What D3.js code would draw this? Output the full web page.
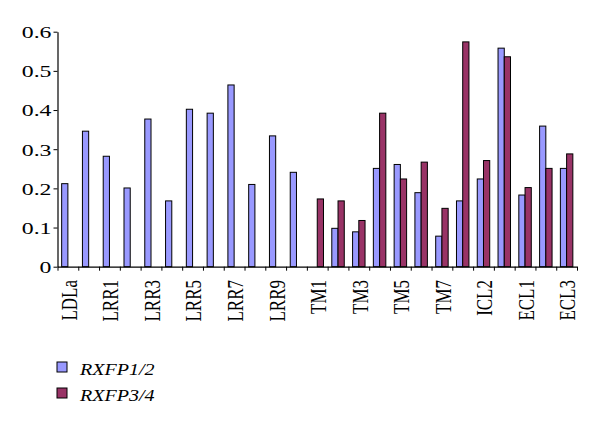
<!DOCTYPE html>
<html>
<head>
<meta charset="utf-8">
<script src="https://cdn.jsdelivr.net/npm/d3@7"></script>
<style>
  html, body { margin: 0; padding: 0; background: #fff; }
  svg { display: block; }
  text { font-family: "Liberation Serif", "Times New Roman", serif; fill: #000; }
</style>
</head>
<body>
<svg id="chart" width="600" height="426"></svg>
<script>
// ---- data ----
const categories = ["LDLa", "Linker", "LRR1", "LRR2", "LRR3", "LRR4", "LRR5", "LRR6", "LRR7", "LRR8",
  "LRR9", "LRR10", "TM1", "TM2", "TM3", "TM4", "TM5", "TM6", "TM7", "ICL1", "ICL2", "ICL3",
  "ECL1", "ECL2", "ECL3"];
const seriesNames = ["RXFP1/2", "RXFP3/4"];
const rxfp12 = [0.212, 0.346, 0.282, 0.201, 0.377, 0.168, 0.402, 0.392, 0.464, 0.210, 0.334, 0.241,
  null, 0.098, 0.089, 0.251, 0.261, 0.189, 0.078, 0.168, 0.224, 0.558, 0.183, 0.359, 0.251];
const rxfp34 = [null, null, null, null, null, null, null, null, null, null, null, null,
  0.173, 0.168, 0.118, 0.392, 0.224, 0.267, 0.149, 0.574, 0.271, 0.536, 0.202, 0.251, 0.288];
const yTicks = [0, 0.1, 0.2, 0.3, 0.4, 0.5, 0.6];
const colors = ["#9999FF", "#993366"];

// ---- layout ----
const svg = d3.select("#chart");
const mLeft = 57.5, mRight = 577, mTop = 31.7, mBottom = 266.7;
const stretch = 1.4;

const x0 = d3.scaleBand().domain(categories).range([mLeft, mRight]).paddingInner(0.4).paddingOuter(0.2);
const x1 = d3.scaleBand().domain(seriesNames).range([0, x0.bandwidth()]);
const y = d3.scaleLinear().domain([0, 0.6]).range([mBottom, mTop]);
const xIdx = d3.scaleLinear().domain([0, categories.length]).range([mLeft, mRight]);

const values = [rxfp12, rxfp34];
const rows = [];
categories.forEach((c, i) => {
  seriesNames.forEach((s, k) => {
    const v = values[k][i];
    if (v !== null) rows.push({ cat: c, series: s, k, v });
  });
});

svg.append("g").selectAll("rect").data(rows).join("rect")
  .attr("x", d => x0(d.cat) + x1(d.series))
  .attr("y", d => y(d.v))
  .attr("width", x1.bandwidth())
  .attr("height", d => y(0) - y(d.v))
  .attr("fill", d => colors[d.k])
  .attr("stroke", "#000")
  .attr("stroke-width", 1);

// y axis
const yAxis = svg.append("g").attr("transform", `translate(${mLeft},0)`)
  .call(d3.axisLeft(y).tickValues(yTicks).tickSize(4).tickSizeOuter(0)
    .tickFormat(d => d === 0 ? "0" : d.toFixed(1)));
yAxis.select(".domain").attr("stroke", "#000").attr("stroke-width", 1.2);
yAxis.selectAll(".tick line").attr("stroke", "#000");
yAxis.selectAll(".tick text")
  .attr("x", null).attr("dy", "0.35em")
  .attr("transform", `translate(-6,0) scale(${stretch},1)`)
  .style("font-size", "17px")
  .style("font-family", "'Liberation Serif', serif")
  .attr("text-anchor", "end");

// x axis (category boundary ticks)
const xAxis = svg.append("g").attr("transform", `translate(0,${mBottom})`)
  .call(d3.axisBottom(xIdx).tickValues(d3.range(categories.length + 1)).tickSize(4)
    .tickSizeOuter(0).tickFormat(""));
xAxis.select(".domain").attr("stroke", "#000").attr("stroke-width", 1.2);
xAxis.selectAll(".tick line").attr("stroke", "#000");

// category labels (every other)
svg.append("g").selectAll("text")
  .data(categories.filter((c, i) => i % 2 === 0))
  .join("text")
  .attr("transform", d => `translate(${x0(d) + x0.bandwidth() / 2 + 0.5},280) scale(${stretch},1) rotate(-90)`)
  .attr("text-anchor", "end")
  .attr("dy", "0.35em")
  .style("font-size", "17px")
  .text(d => d);

// legend
const legend = svg.append("g").selectAll("g").data(seriesNames).join("g")
  .attr("transform", (d, i) => `translate(57,${362 + i * 26})`);
legend.append("rect")
  .attr("width", 10).attr("height", 10)
  .attr("fill", (d, i) => colors[i])
  .attr("stroke", "#000").attr("stroke-width", 1);
legend.append("text")
  .attr("transform", `translate(23,13) scale(1.18,1)`)
  .style("font-size", "17px")
  .style("font-style", "italic")
  .text(d => d);
</script>
</body>
</html>
